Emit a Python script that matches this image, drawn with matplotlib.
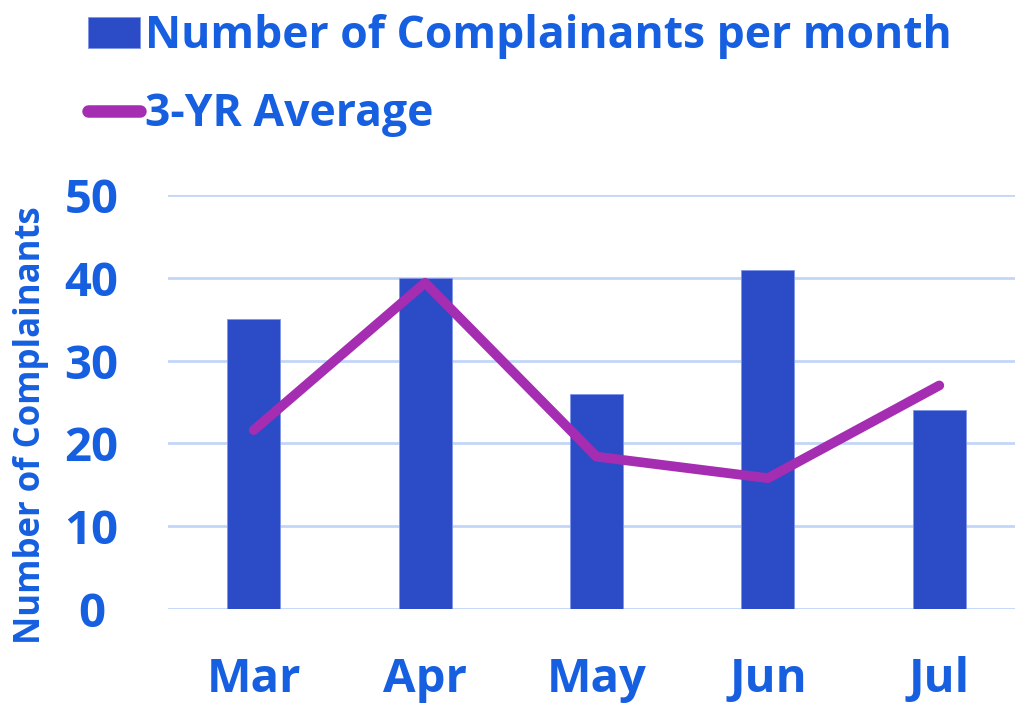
import numpy as np
import matplotlib.pyplot as plt

months = ['Mar', 'Apr', 'May', 'Jun', 'Jul']
complainants = [35, 40, 26, 41, 24]
avg_3yr = [21.6, 39.4, 18.4, 15.8, 27.0]

text_col = '#155FE0'
bar_col = '#2C4BC6'
line_col = '#A52DB2'
grid_col = '#C2D6F7'

plt.rcParams['font.family'] = ['Open Sans', 'DejaVu Sans']
plt.rcParams['font.weight'] = 'bold'

fig = plt.figure(figsize=(10.15, 7.03), dpi=100)
ax = fig.add_axes([168 / 1015, 1 - 609 / 703, 857 / 1015, 414 / 703])

x = np.arange(len(months))
bars = ax.bar(x, complainants, width=0.31, color=bar_col, edgecolor='#7F95E6',
              linewidth=0.6, zorder=2, label='Number of Complainants per month')
line, = ax.plot(x, avg_3yr, color=line_col, linewidth=7, solid_capstyle='round',
                solid_joinstyle='round', zorder=3, label='3-YR Average')

ax.set_xlim(-0.5, 4.5)
ax.set_ylim(0, 50)
ax.set_yticks([0, 10, 20, 30, 40, 50])
ax.yaxis.grid(True, color=grid_col, linewidth=2, zorder=0)
ax.set_axisbelow(True)
for s in ax.spines.values():
    s.set_visible(False)
ax.tick_params(length=0, labelsize=34, labelcolor=text_col)
ax.set_xticks(x)
ax.set_xticklabels(months)
ax.tick_params(axis='x', pad=34)
ax.tick_params(axis='y', pad=55)
for t in ax.get_yticklabels():
    t.set_horizontalalignment('center')

fig.text(0.031, 1 - 425 / 703, 'Number of Complainants', rotation=90, ha='center',
         va='center', fontsize=25, color=text_col, fontweight='bold')

leg = fig.legend(handles=[bars, line], loc='upper left',
                 bbox_to_anchor=(88 / 1015, 1 - 14 / 703),
                 frameon=False, fontsize=32, labelcolor=text_col, handlelength=1.17,
                 handleheight=0.68, handletextpad=0.12, labelspacing=0.75,
                 borderaxespad=0, borderpad=0)
for h in leg.get_lines():
    h.set_linewidth(9)

fig.savefig('out.png', dpi=100)
